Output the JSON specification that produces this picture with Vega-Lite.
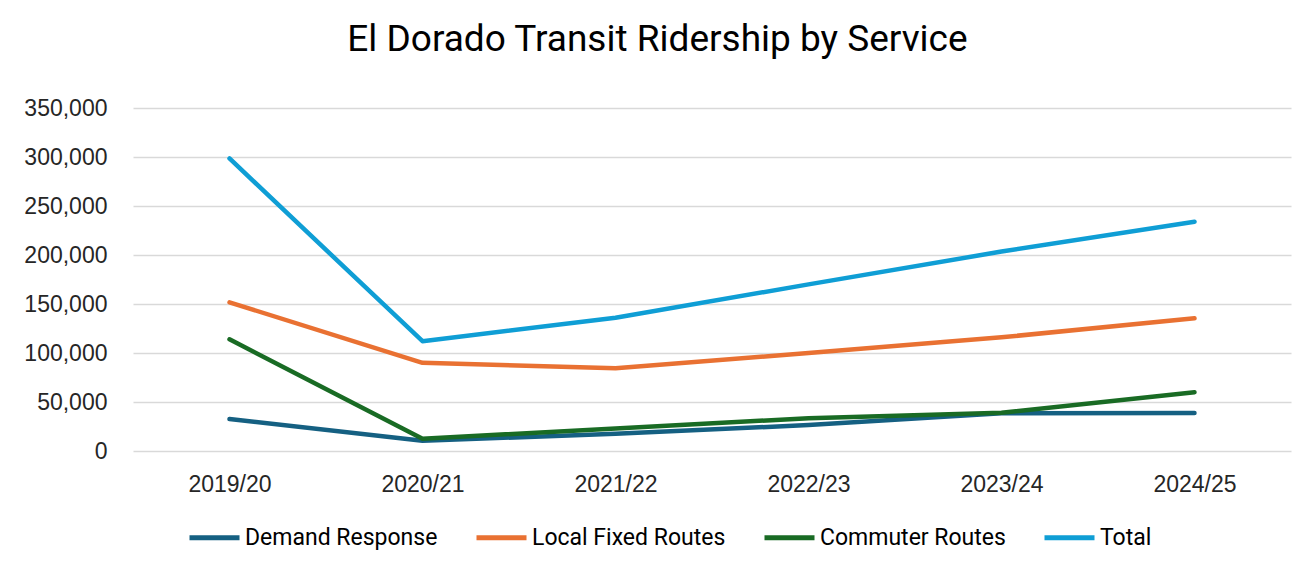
{
  "$schema": "https://vega.github.io/schema/vega-lite/v6.json",
  "autosize": {"type": "none"},
  "width": 1158,
  "height": 343,
  "padding": {"left": 133, "top": 108, "right": 22, "bottom": 116},
  "background": "white",
  "title": {
    "text": "El Dorado Transit Ridership by Service",
    "font": "Roboto",
    "fontSize": 37,
    "fontWeight": "normal",
    "color": "#000000",
    "anchor": "middle",
    "frame": "bounds",
    "offset": 38
  },
  "data": {
    "values": [
      {"year": "2019/20", "service": "Demand Response", "riders": 32700},
      {"year": "2020/21", "service": "Demand Response", "riders": 10500},
      {"year": "2021/22", "service": "Demand Response", "riders": 17500},
      {"year": "2022/23", "service": "Demand Response", "riders": 26500},
      {"year": "2023/24", "service": "Demand Response", "riders": 38500},
      {"year": "2024/25", "service": "Demand Response", "riders": 38800},
      {"year": "2019/20", "service": "Local Fixed Routes", "riders": 151700},
      {"year": "2020/21", "service": "Local Fixed Routes", "riders": 90000},
      {"year": "2021/22", "service": "Local Fixed Routes", "riders": 84500},
      {"year": "2022/23", "service": "Local Fixed Routes", "riders": 100000},
      {"year": "2023/24", "service": "Local Fixed Routes", "riders": 116000},
      {"year": "2024/25", "service": "Local Fixed Routes", "riders": 135500},
      {"year": "2019/20", "service": "Commuter Routes", "riders": 114000},
      {"year": "2020/21", "service": "Commuter Routes", "riders": 12500},
      {"year": "2021/22", "service": "Commuter Routes", "riders": 23000},
      {"year": "2022/23", "service": "Commuter Routes", "riders": 33500},
      {"year": "2023/24", "service": "Commuter Routes", "riders": 39000},
      {"year": "2024/25", "service": "Commuter Routes", "riders": 60000},
      {"year": "2019/20", "service": "Total", "riders": 298500},
      {"year": "2020/21", "service": "Total", "riders": 112000},
      {"year": "2021/22", "service": "Total", "riders": 136000},
      {"year": "2022/23", "service": "Total", "riders": 170000},
      {"year": "2023/24", "service": "Total", "riders": 203500},
      {"year": "2024/25", "service": "Total", "riders": 234000}
    ]
  },
  "mark": {"type": "line", "strokeWidth": 4.5, "strokeCap": "round", "strokeJoin": "round"},
  "encoding": {
    "x": {
      "field": "year",
      "type": "ordinal",
      "scale": {"type": "point", "padding": 0.5},
      "axis": {
        "title": null,
        "labelAngle": 0,
        "ticks": false,
        "domain": false,
        "grid": false,
        "labelFont": "Liberation Sans",
        "labelFontSize": 23,
        "labelColor": "#262626",
        "labelPadding": 22
      }
    },
    "y": {
      "field": "riders",
      "type": "quantitative",
      "scale": {"domain": [0, 350000], "nice": false},
      "axis": {
        "title": null,
        "values": [0, 50000, 100000, 150000, 200000, 250000, 300000, 350000],
        "format": ",d",
        "ticks": false,
        "domain": false,
        "grid": true,
        "gridColor": "#d9d9d9",
        "gridWidth": 1.5,
        "labelFont": "Liberation Sans",
        "labelFontSize": 23,
        "labelColor": "#262626",
        "labelPadding": 26
      }
    },
    "color": {
      "field": "service",
      "type": "nominal",
      "scale": {
        "domain": ["Demand Response", "Local Fixed Routes", "Commuter Routes", "Total"],
        "range": ["#156082", "#e97132", "#196b24", "#0f9ed5"]
      },
      "legend": {
        "title": null,
        "orient": "none",
        "legendX": 54,
        "legendY": 402,
        "direction": "horizontal",
        "columns": 4,
        "columnPadding": 28,
        "symbolType": "stroke",
        "symbolSize": 2500,
        "symbolStrokeWidth": 5,
        "labelOffset": 3,
        "labelFont": "Roboto",
        "labelFontSize": 23,
        "labelColor": "#000000",
        "labelLimit": 400
      }
    }
  },
  "config": {"view": {"stroke": null}}
}
